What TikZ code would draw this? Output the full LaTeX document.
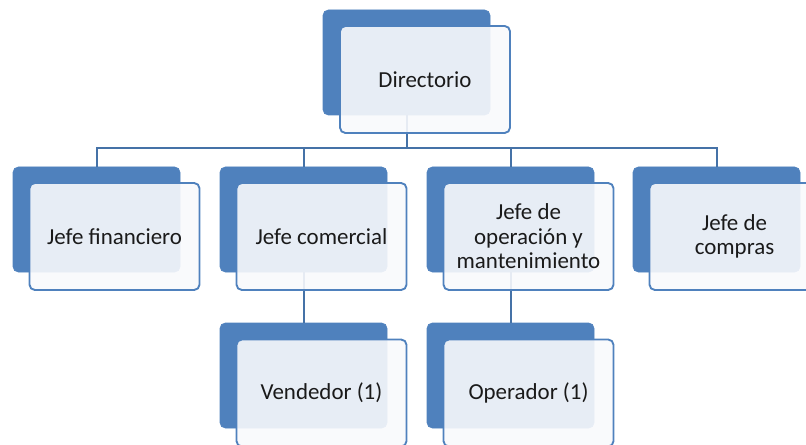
\documentclass[tikz,border=0pt]{standalone}
\usepackage{fontspec}
\setmainfont{Carlito}
\definecolor{boxblue}{HTML}{4F81BD}
\definecolor{linkblue}{HTML}{4572A7}
\definecolor{frontfill}{HTML}{F8F9FC}
\definecolor{txt}{HTML}{1A1A1A}
\tikzset{
  backbox/.style={rectangle, rounded corners=4pt, fill=boxblue, draw=boxblue, line width=0.5pt,
    minimum width=125.25pt, minimum height=78.75pt, inner sep=0pt, outer sep=0pt},
  frontbox/.style={rectangle, rounded corners=4pt, fill=frontfill, fill opacity=0.9, text opacity=1,
    draw=boxblue, draw opacity=1, line width=1.4pt, minimum width=127.5pt, minimum height=80.25pt,
    inner sep=2pt, outer sep=0pt, align=center, text=txt,
    font=\fontsize{17.2}{18.4}\selectfont},
  conn/.style={draw=linkblue, line width=1.5pt}
}
\begin{document}
\begin{tikzpicture}[x=0.75pt,y=-0.75pt]
\useasboundingbox (0,0) rectangle (806,445);
\clip (0,0) rectangle (806,445);
% back boxes
\node[backbox] (dirB) at (406.5,62.5) {};
\node[backbox] (finB) at (96.5,219.5) {};
\node[backbox] (comB) at (303.5,219.5) {};
\node[backbox] (opeB) at (510.5,219.5) {};
\node[backbox] (cmpB) at (716.5,219.5) {};
\node[backbox] (venB) at (303.5,375.5) {};
\node[backbox] (oprB) at (510.5,375.5) {};
% connectors
\coordinate (busy) at (0,148);
\draw[conn] (dirB.south) |- (busy -| finB.north) -- (finB.north);
\draw[conn] (dirB.south) |- (busy -| comB.north) -- (comB.north);
\draw[conn] (dirB.south) |- (busy -| opeB.north) -- (opeB.north);
\draw[conn] (dirB.south) |- (busy -| cmpB.north) -- (cmpB.north);
\draw[conn] (comB.south) -- (venB.north);
\draw[conn] (opeB.south) -- (oprB.north);
% front boxes
\node[frontbox] (dirF) at (425,79.5) {Directorio};
\node[frontbox] (finF) at (114.5,236.5) {Jefe financiero};
\node[frontbox] (comF) at (321.5,236.5) {Jefe comercial};
\node[frontbox] (opeF) at (528.5,236.5) {Jefe de\\operación y\\mantenimiento};
\node[frontbox] (cmpF) at (734.5,236.5) {Jefe de\\compras};
\node[frontbox] (venF) at (321.5,393) {Vendedor (1)};
\node[frontbox] (oprF) at (528.5,393) {Operador (1)};
\end{tikzpicture}
\end{document}
